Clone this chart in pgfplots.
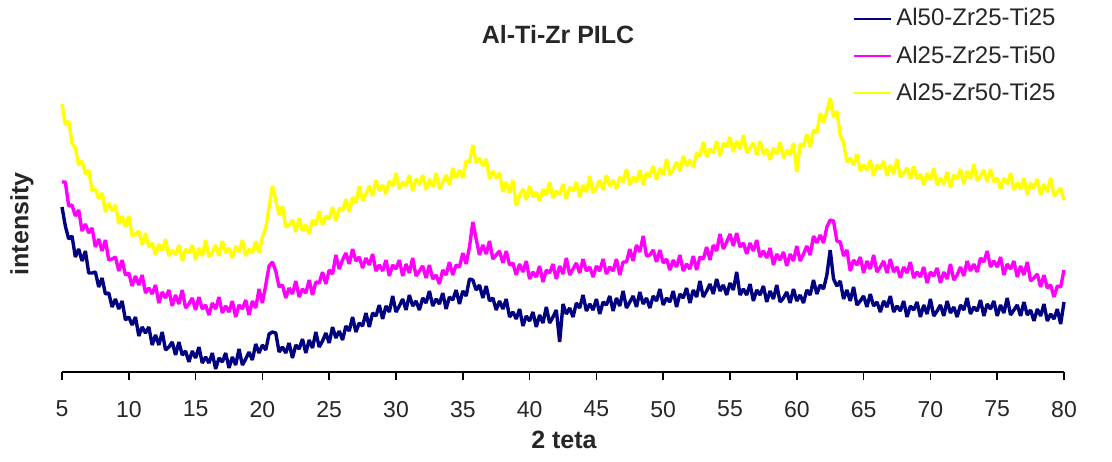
\documentclass[border=0pt]{standalone}
\usepackage{pgfplots}
\pgfplotsset{compat=1.18}
\usepackage{pgfplotstable}
\usepackage{fontspec}
\setmainfont{Liberation Sans}

\definecolor{xrdnavy}{RGB}{0,0,128}
\definecolor{xrdmagenta}{RGB}{255,0,255}
\definecolor{xrdyellow}{RGB}{255,255,0}

% XRD patterns of the pillared clays (intensity in arbitrary units, curves offset)
% columns: 2theta, Al50-Zr25-Ti25, Al25-Zr25-Ti50, Al25-Zr50-Ti25
\pgfplotstableread{
x b m y
5.00 165 190 268
5.25 146 190 247
5.50 133 166 251
5.75 136 167 229
6.00 115 156 224
6.25 123 162 207
6.50 111 141 211
6.75 121 148 198
7.00 99 139 202
7.25 99 144 181
7.50 100 125 183
7.75 85 133 173
8.00 94 121 179
8.25 78 132 160
8.50 79 112 169
8.75 65 113 161
9.00 73 115 167
9.25 63 101 148
9.50 71 112 156
9.75 52 97 145
10.00 55 99 156
10.25 47 86 136
10.50 55 96 138
10.75 36 87 141
11.00 45 97 127
11.25 39 79 139
11.50 45 84 125
11.75 27 78 129
12.00 37 87 117
12.25 27 69 128
12.50 40 80 121
12.75 22 74 133
13.00 25 82 116
13.25 30 66 122
13.50 17 77 117
13.75 30 68 127
14.00 17 82 111
14.25 21 64 123
14.50 10 68 119
14.75 21 74 127
15.00 14 62 112
15.25 25 75 124
15.50 9 63 116
15.75 15 67 132
16.00 9 57 115
16.25 19 69 120
16.50 3 63 127
16.75 14 75 116
17.00 10 59 131
17.25 19 66 119
17.50 4 60 124
17.75 15 71 114
18.00 7 55 126
18.25 23 67 120
18.50 7 63 132
18.75 13 72 116
19.00 20 57 123
19.25 12 71 119
19.50 28 64 131
19.75 19 83 119
20.00 27 69 135
20.25 22 87 144
20.50 38 106 165
20.75 40 110 186
21.00 39 101 172
21.25 20 85 157
21.50 25 87 166
21.75 19 74 145
22.00 29 84 147
22.25 14 78 152
22.50 27 91 140
22.75 23 75 154
23.00 33 83 141
23.25 19 79 147
23.50 32 92 138
23.75 24 77 152
24.00 40 90 147
24.25 25 89 161
24.50 31 100 147
24.75 39 88 156
25.00 29 102 153
25.25 45 98 165
25.50 34 117 151
25.75 41 103 164
26.00 32 112 161
26.25 46 119 173
26.50 41 108 160
26.75 55 123 175
27.00 40 111 169
27.25 49 115 186
27.50 46 104 171
27.75 59 114 178
28.00 45 107 186
28.25 59 118 176
28.50 56 101 192
28.75 67 107 181
29.00 53 101 187
29.25 66 112 178
29.50 60 96 191
29.75 76 107 186
30.00 60 103 199
30.25 66 112 183
30.50 73 96 190
30.75 62 108 186
31.00 77 99 197
31.25 66 114 181
31.50 71 96 193
31.75 62 101 188
32.00 74 106 197
32.25 69 94 182
32.50 81 107 193
32.75 66 93 185
33.00 73 97 199
33.25 68 88 183
33.50 79 102 190
33.75 63 97 197
34.00 75 110 187
34.25 72 97 204
34.50 82 107 194
34.75 68 105 202
35.00 81 119 194
35.25 76 108 211
35.50 93 125 210
35.75 92 150 227
36.00 82 133 209
36.25 87 117 214
36.50 74 127 206
36.75 86 118 213
37.00 71 131 193
37.25 74 113 201
37.50 62 117 194
37.75 71 121 199
38.00 63 109 180
38.25 73 121 190
38.50 55 107 179
38.75 60 109 192
39.00 53 97 166
39.25 63 108 177
39.50 46 100 183
39.75 56 111 172
40.00 51 93 186
40.25 60 100 175
40.50 45 95 180
40.75 57 106 171
41.00 49 90 183
41.25 65 102 177
41.50 49 99 190
41.75 55 108 174
42.00 62 93 181
42.25 30 106 177
42.50 68 98 188
42.75 58 114 173
43.00 64 97 185
43.25 55 103 181
43.50 69 109 190
43.75 64 99 175
44.00 77 113 187
44.25 61 101 180
44.50 68 105 196
44.75 62 95 179
45.00 73 106 185
45.25 58 101 192
45.50 70 113 182
45.75 67 98 197
46.00 76 105 186
46.25 61 101 192
46.50 74 113 183
46.75 66 97 195
47.00 81 110 190
47.25 64 110 203
47.50 70 123 187
47.75 76 111 195
48.00 65 127 190
48.25 80 120 202
48.50 68 136 187
48.75 74 116 199
49.00 64 117 196
49.25 76 122 206
49.50 71 110 192
49.75 83 122 204
50.00 67 109 197
50.25 74 113 213
50.50 70 102 197
50.75 81 112 203
51.00 65 105 210
51.25 78 117 201
51.50 74 101 216
51.75 84 108 206
52.00 69 103 212
52.25 82 116 205
52.50 75 102 219
52.75 91 115 216
53.00 75 113 230
53.25 81 125 215
53.50 88 112 223
53.75 78 127 219
54.00 93 121 231
54.25 81 138 216
54.50 87 123 229
54.75 77 130 225
55.00 89 138 235
55.25 82 126 220
55.50 100 139 231
55.75 77 125 223
56.00 83 129 237
56.25 77 118 219
56.50 88 129 224
56.75 71 121 229
57.00 82 132 217
57.25 77 115 231
57.50 86 121 218
57.75 70 114 223
58.00 81 124 212
58.25 73 107 224
58.50 87 118 218
58.75 70 112 230
59.00 74 120 214
59.25 80 106 222
59.50 69 118 217
59.75 83 111 229
60.00 71 126 200
60.25 77 111 228
60.50 69 118 226
60.75 82 126 238
61.00 77 117 225
61.25 92 136 242
61.50 78 129 239
61.75 87 137 259
62.00 83 129 249
62.25 97 145 261
62.50 122 152 274
62.75 93 151 255
63.00 86 131 261
63.25 91 130 237
63.50 73 116 229
63.75 82 122 210
64.00 71 101 214
64.25 85 112 207
64.50 67 107 218
64.75 71 115 201
65.00 76 99 207
65.25 65 111 202
65.50 78 103 212
65.75 66 117 196
66.00 70 100 207
66.25 60 105 203
66.50 71 111 211
66.75 65 99 196
67.00 76 113 207
67.25 60 100 198
67.50 66 105 213
67.75 61 94 195
68.00 71 105 199
68.25 55 99 204
68.50 66 110 193
68.75 62 94 206
69.00 70 100 193
69.25 55 95 198
69.50 67 105 187
69.75 58 89 199
70.00 73 100 192
70.25 56 96 204
70.50 61 104 187
70.75 67 89 194
71.00 56 100 188
71.25 71 93 200
71.50 59 108 184
71.75 65 92 197
72.00 55 97 193
72.25 67 105 203
72.50 62 96 188
72.75 74 111 201
73.00 58 101 193
73.25 65 108 208
73.50 61 100 191
73.75 72 114 196
74.00 56 110 202
74.25 68 121 190
74.50 63 105 203
74.75 71 111 190
75.00 56 105 194
75.25 67 115 183
75.50 59 97 194
75.75 74 108 188
76.00 57 103 199
76.25 62 111 182
76.50 67 95 189
76.75 56 106 183
77.00 70 97 194
77.25 57 110 177
77.50 62 91 189
77.75 51 94 184
78.00 63 98 193
78.25 56 85 177
78.50 68 97 188
78.75 51 84 180
79.00 58 87 194
79.25 53 75 176
79.50 63 86 180
79.75 48 85 184
80.00 70 102 172
}\xrd

\begin{document}
\begin{tikzpicture}
\begin{axis}[
  scale only axis,
  width=501pt, height=150pt,
  xmin=5, xmax=80, ymin=0, ymax=300,
  clip=false,
  axis x line*=bottom,
  axis y line=none,
  x axis line style={-, line width=0.8pt},
  xtick={5,10,...,80},
  ytick=\empty,
  tick align=outside,
  major tick length=4pt,
  every tick/.style={black, line width=0.8pt},
  tick label style={font=\fontsize{11.5}{13}\selectfont, text=black!85},
  xticklabel style={yshift=-7pt},
  /pgf/number format/assume math mode=true,
  legend style={at={(axis cs:64.2,368)}, anchor=north west,
    draw=none, fill=none, inner sep=0pt,
    font=\fontsize{12}{14}\selectfont, text=black!85,
    row sep=4.5pt},
  legend cell align=left,
  legend image code/.code={\draw[#1, line width=1pt] (0pt,0pt) -- (18.5pt,0pt);},
  every axis plot/.append style={line width=1.7pt, line join=bevel},
]
% page frame
\path (axis cs:0.3593,-89) rectangle (axis cs:83.593,372);

\addplot[xrdnavy] table[x=x, y=b] {\xrd};
\addlegendentry{Al50-Zr25-Ti25}
\addplot[xrdmagenta] table[x=x, y=m] {\xrd};
\addlegendentry{Al25-Zr25-Ti50}
\addplot[xrdyellow] table[x=x, y=y] {\xrd};
\addlegendentry{Al25-Zr50-Ti25}

\node[font=\bfseries\fontsize{12.5}{15}\selectfont, text=black!85] at (axis cs:42.13,337) {Al-Ti-Zr PILC};
\node[font=\bfseries\fontsize{12.5}{15}\selectfont, text=black!85] at (axis cs:42.57,-68) {2 teta};
\node[font=\bfseries\fontsize{12.5}{15}\selectfont, text=black!85, rotate=90] at (axis cs:2.0,148) {intensity};
\end{axis}
\end{tikzpicture}
\end{document}
